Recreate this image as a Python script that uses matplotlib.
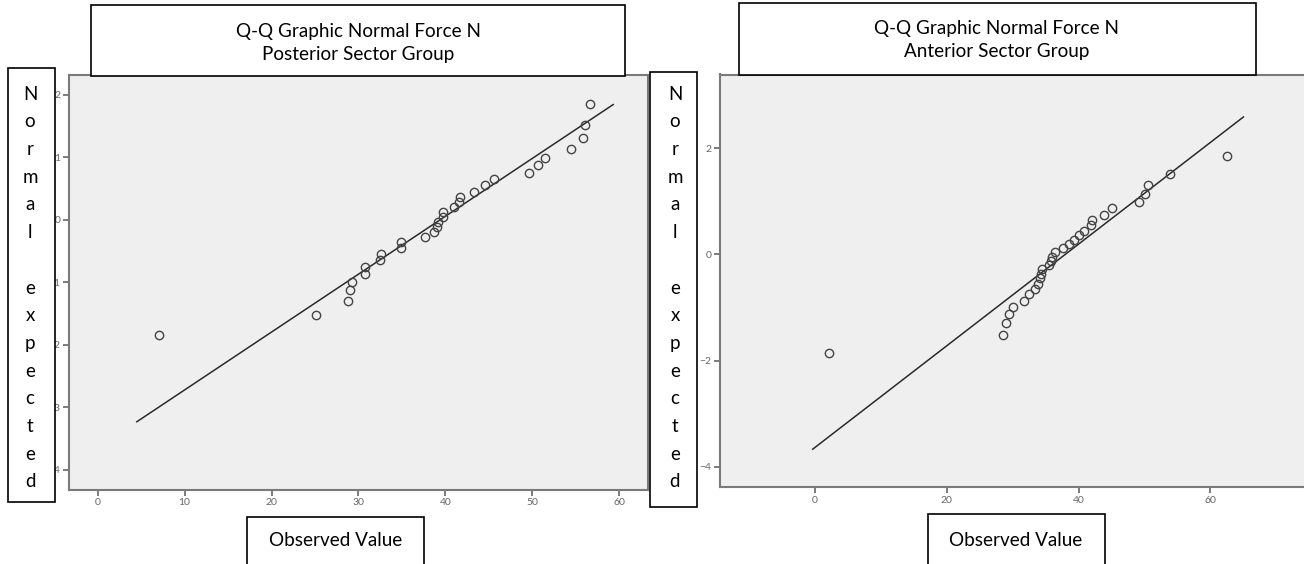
import numpy as np
import matplotlib
matplotlib.use('Agg')
import matplotlib.pylab as plt
from matplotlib.patches import Rectangle

plt.rcParams['font.family'] = ['Lato', 'DejaVu Sans']

# posterior sector group (left panel)
post_obs = [7.1, 25.1, 28.8, 29.0, 29.3, 30.8, 30.8, 32.5, 32.6, 34.9,
            34.9, 37.7, 38.7, 39.0, 39.1, 39.7, 39.7, 41.0, 41.6, 41.7,
            43.3, 44.5, 45.6, 49.6, 50.6, 51.5, 54.5, 55.8, 56.1, 56.6]
post_exp = [-1.85, -1.52, -1.30, -1.13, -0.99, -0.87, -0.75, -0.65, -0.55, -0.45,
            -0.36, -0.28, -0.20, -0.12, -0.04, 0.04, 0.12, 0.20, 0.28, 0.36,
            0.45, 0.55, 0.65, 0.75, 0.87, 0.99, 1.13, 1.30, 1.52, 1.85]
post_line_x = [4.5, 59.3]
post_line_y = [-3.23, 1.84]

# anterior sector group (right panel)
ant_obs = [2.2, 28.6, 29.0, 29.5, 30.0, 31.8, 32.5, 33.4, 33.9, 34.1,
           34.3, 34.4, 35.5, 35.8, 36.0, 36.5, 37.7, 38.6, 39.3, 40.0,
           40.9, 41.9, 42.1, 43.8, 45.1, 49.1, 50.1, 50.6, 53.8, 62.5]
ant_exp = [-1.85, -1.52, -1.30, -1.13, -0.99, -0.87, -0.75, -0.65, -0.55, -0.45,
           -0.36, -0.28, -0.20, -0.12, -0.04, 0.04, 0.12, 0.20, 0.28, 0.36,
           0.45, 0.55, 0.65, 0.75, 0.87, 0.99, 1.13, 1.30, 1.52, 1.85]
ant_line_x = [-0.3, 65.0]
ant_line_y = [-3.67, 2.59]

titles = ['Q-Q Graphic Normal Force N\nPosterior Sector Group',
          'Q-Q Graphic Normal Force N\nAnterior Sector Group']
ylabel = 'N\no\nr\nm\na\nl\n\ne\nx\np\ne\nc\nt\ne\nd'
xlabel = 'Observed Value'

W, H = 1304, 564

def px_axes(fig, x0, y0, x1, y1):
    # pixel box (top-left origin) -> axes
    return fig.add_axes([x0/W, 1-y1/H, (x1-x0)/W, (y1-y0)/H])

def px_box(fig, x0, y0, x1, y1):
    fig.add_artist(Rectangle((x0/W, 1-y1/H), (x1-x0)/W, (y1-y0)/H,
                             transform=fig.transFigure, facecolor='white',
                             edgecolor='black', lw=1.2, zorder=10))

def px_text(fig, x, y, s, **kw):
    fig.text(x/W, 1-y/H, s, ha='center', va='center', zorder=11, **kw)

def qq_panel(ax, obs, exp, lx, ly, xlim, ylim, xticks, yticks):
    ax.set_facecolor('#efefef')
    ax.plot(lx, ly, color='#2a2a2a', lw=1.1)
    ax.plot(obs, exp, 'o', mfc='none', mec='#444444', ms=6, mew=1.0)
    ax.set_xlim(xlim)
    ax.set_ylim(ylim)
    ax.set_xticks(xticks)
    ax.set_yticks(yticks)
    for sp in ax.spines.values():
        sp.set_color('#7a7a7a')
        sp.set_linewidth(1.5)
    ax.tick_params(direction='out', length=4, width=1.2, color='#666666',
                   labelcolor='#666666', labelsize=7.5, pad=2)


def plot():
    fig = plt.figure(figsize=(W/100, H/100), dpi=100)

    ax1 = px_axes(fig, 68.6, 74.5, 648, 490)
    qq_panel(ax1, post_obs, post_exp, post_line_x, post_line_y,
             (-3.34, 63.3), (-4.32, 2.32), range(0, 61, 10), range(-4, 3))

    ax2 = px_axes(fig, 719.7, 74.5, 1314, 487.4)
    qq_panel(ax2, ant_obs, ant_exp, ant_line_x, ant_line_y,
             (-14.4, 75.7), (-4.39, 3.39), range(0, 61, 20), range(-4, 3, 2))
    ax2.spines['right'].set_visible(False)

    # title boxes
    px_box(fig, 91, 5, 625, 76)
    px_text(fig, 358, 43, titles[0], fontsize=13.6, linespacing=1.4)
    px_box(fig, 739, 3, 1256, 74.5)
    px_text(fig, 997, 40, titles[1], fontsize=13.6, linespacing=1.4)

    # y label boxes
    px_box(fig, 7.6, 67.6, 54.7, 502)
    px_text(fig, 30, 288, ylabel, fontsize=13.5, linespacing=1.765)
    px_box(fig, 650, 72, 697, 506.5)
    px_text(fig, 675, 288, ylabel, fontsize=13.5, linespacing=1.765)

    # x label boxes
    px_box(fig, 247.5, 516.5, 424, 580)
    px_text(fig, 336, 540, xlabel, fontsize=13.6)
    px_box(fig, 928, 514, 1104.6, 580)
    px_text(fig, 1016, 540, xlabel, fontsize=13.6)

    fig.savefig('out.png', dpi=100)


if __name__=='__main__':
    plot()
